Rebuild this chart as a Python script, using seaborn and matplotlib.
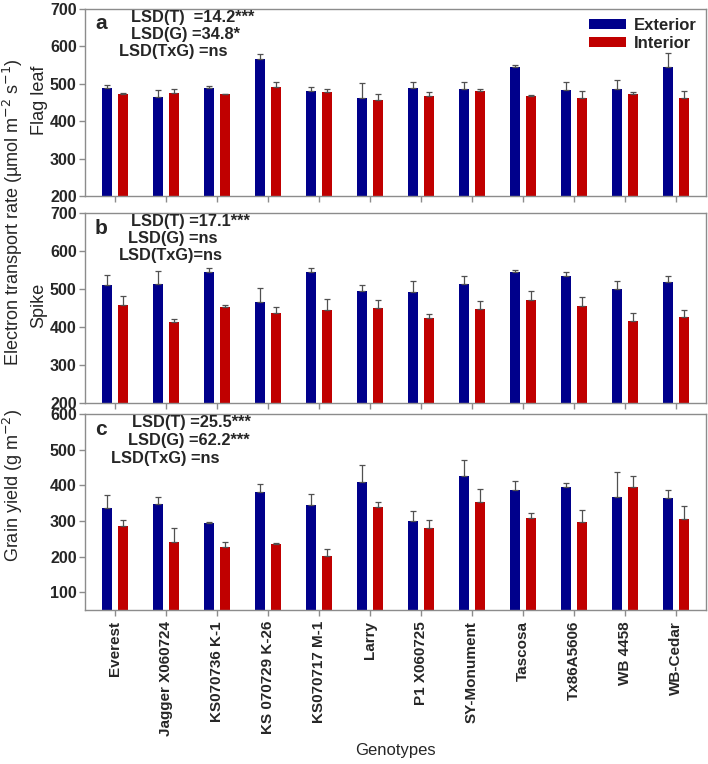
import numpy as np
import pandas as pd
import matplotlib
matplotlib.use("Agg")
import matplotlib.pyplot as plt
from matplotlib.container import BarContainer
import seaborn as sns

genotypes = ["Everest", "Jagger X060724", "KS070736 K-1", "KS 070729 K-26",
             "KS070717 M-1", "Larry", "P1 X060725", "SY-Monument", "Tascosa",
             "Tx86A5606", "WB 4458", "WB-Cedar"]
treatments = ["Exterior", "Interior"]

# Panel a: flag leaf ETR
flag_ext = [490, 464, 490, 565, 482, 461, 489, 487, 545, 484, 487, 545]
flag_ext_err = [7, 19, 4, 16, 9, 41, 15, 18, 5, 21, 23, 37]
flag_int = [474, 476, 472, 491, 479, 458, 468, 481, 468, 463, 472, 463]
flag_int_err = [1, 9, 2, 15, 7, 16, 9, 4, 3, 19, 5, 19]

# Panel b: spike ETR
spike_ext = [510, 513, 546, 465, 545, 494, 493, 513, 545, 535, 501, 518]
spike_ext_err = [27, 35, 10, 38, 9, 17, 29, 21, 6, 11, 20, 17]
spike_int = [458, 412, 453, 438, 445, 450, 425, 447, 471, 455, 417, 427]
spike_int_err = [24, 8, 6, 14, 28, 20, 9, 21, 24, 25, 19, 17]

# Panel c: grain yield
yield_ext = [336, 347, 295, 382, 346, 409, 299, 425, 387, 396, 367, 364]
yield_ext_err = [36, 21, 1, 22, 30, 48, 29, 46, 25, 9, 69, 22]
yield_int = [285, 242, 226, 236, 201, 338, 279, 353, 308, 298, 394, 306]
yield_int_err = [17, 38, 14, 2, 21, 14, 23, 36, 14, 32, 31, 36]

lsd_a = ["LSD(T)  =14.2***", "LSD(G) =34.8*", "LSD(TxG) =ns"]
lsd_b = ["LSD(T) =17.1***", "LSD(G) =ns", "LSD(TxG)=ns"]
lsd_c = ["LSD(T) =25.5***", "LSD(G) =62.2***", "LSD(TxG) =ns"]

sns.set_style("white")
plt.rcParams["font.family"] = ["Liberation Sans", "DejaVu Sans"]

colors = {"Exterior": "#00008B", "Interior": "#C00000"}
spine_col = "#8C8C8C"

fig = plt.figure(figsize=(7.08, 7.64), dpi=100)
L, R = 85 / 708, 706 / 708
H = 764
boxes = [(9, 196), (213, 403), (414, 610)]
axes = []
for top, bot in boxes:
    axes.append(fig.add_axes([L, 1 - bot / H, R - L, (bot - top) / H]))

panels = [
    (flag_ext, flag_ext_err, flag_int, flag_int_err, (200, 700), np.arange(200, 701, 100), "a", lsd_a,
     [0.32, 0.32, 0.08]),
    (spike_ext, spike_ext_err, spike_int, spike_int_err, (200, 700), np.arange(200, 701, 100), "b", lsd_b,
     [0.32, 0.25, 0.08]),
    (yield_ext, yield_ext_err, yield_int, yield_int_err, (50, 600), np.arange(100, 601, 100), "c", lsd_c,
     [0.33, 0.25, -0.08]),
]

bar_handles = None
for i, (ax, (ext, ext_err, inn, inn_err, ylim, yt, letter, lsd, lx)) in enumerate(zip(axes, panels)):
    df = pd.DataFrame({
        "Genotype": genotypes * 2,
        "Treatment": ["Exterior"] * 12 + ["Interior"] * 12,
        "value": list(ext) + list(inn),
    })
    sns.barplot(data=df, x="Genotype", y="value", hue="Treatment", order=genotypes,
                hue_order=treatments, palette=colors, width=0.62, gap=0.39,
                errorbar=None, legend=False, ax=ax, saturation=1, edgecolor="none")
    bars = [c for c in ax.containers if isinstance(c, BarContainer)]
    if bar_handles is None:
        bar_handles = [c.patches[0] for c in bars]
    for cont, vals, errs in zip(bars, [ext, inn], [ext_err, inn_err]):
        xs = [p.get_x() + p.get_width() / 2 for p in cont.patches]
        ax.errorbar(xs, vals, yerr=[np.zeros(len(errs)), errs], fmt="none",
                    ecolor="#505050", elinewidth=0.9, capsize=2.5, capthick=0.9, zorder=1)
    ax.set_ylim(*ylim)
    ax.set_xlim(-0.59, 11.59)
    ax.set_yticks(yt)
    ax.set_yticklabels([str(v) for v in yt], fontsize=11.5, fontweight="bold")
    ax.set_xlabel("")
    ax.set_ylabel("")
    for s in ax.spines.values():
        s.set_visible(True)
        s.set_color(spine_col)
        s.set_linewidth(1.0)
    ax.tick_params(axis="both", direction="out", length=4, color=spine_col, width=1,
                   bottom=True, left=True, pad=2)
    ax.tick_params(axis="x", pad=4)
    if i < 2:
        ax.set_xticklabels([])
    else:
        ax.set_xticks(range(len(genotypes)))
        ax.set_xticklabels(genotypes, rotation=90, fontsize=11, fontweight="bold")
    tr = ax.get_xaxis_transform()
    ax.text(-0.28, 0.92, letter, transform=tr, fontsize=15,
            fontweight="bold", ha="center", va="center")
    for j, (t, x0) in enumerate(zip(lsd, lx)):
        ax.text(x0, 0.955 - j * 0.09, t, transform=tr,
                fontsize=11.8, fontweight="bold", ha="left", va="center")

leg = axes[0].legend(bar_handles, treatments, loc="upper right", frameon=False,
                     prop={"weight": "bold", "size": 12}, handlelength=2.2,
                     handleheight=0.55, handletextpad=0.5, labelspacing=0.15,
                     borderaxespad=0.15)

fig.text(395 / 708, 1 - 750 / H, "Genotypes", ha="center", va="center", fontsize=12)
fig.text(13 / 708, 1 - 212 / H, "Electron transport rate (µmol m$^{-2}$ s$^{-1}$)",
         rotation=90, ha="center", va="center", fontsize=13)
fig.text(39 / 708, 1 - 100 / H, "Flag leaf", rotation=90, ha="center", va="center", fontsize=13)
fig.text(39 / 708, 1 - 305 / H, "Spike", rotation=90, ha="center", va="center", fontsize=13)
fig.text(13 / 708, 1 - 485 / H, "Grain yield (g m$^{-2}$)", rotation=90, ha="center",
         va="center", fontsize=13)

fig.savefig("out.png", dpi=100)
